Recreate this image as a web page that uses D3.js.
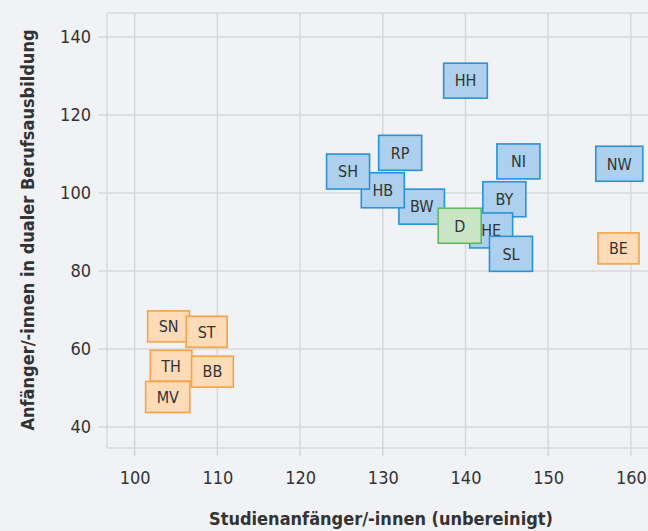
<!DOCTYPE html>
<html lang="de">
<head>
<meta charset="UTF-8">
<title>Anfänger/-innen</title>
<script src="https://cdn.jsdelivr.net/npm/d3@7"></script>
<style>
body { margin: 0; background: #f1f2f6; }
svg { display: block; font-family: "DejaVu Sans Condensed", "DejaVu Sans", sans-serif; }
.grid line { stroke: #d7d8dc; stroke-width: 1.5px; }
.tick text { fill: #333; font-size: 18px; }
.axis-title { fill: #333; font-size: 18px; font-weight: bold; }
.box text { fill: #333; font-size: 16px; }
</style>
</head>
<body>
<div id="chart"></div>
<script>
// Länder in draw order, x = Studienanfänger, y = Anfänger duale Ausbildung
const codes  = ["NW", "NI", "BY", "HH", "BW", "HB", "RP", "SH", "HE", "D", "SL", "BE", "SN", "ST", "TH", "BB", "MV"];
const xVals  = [158.6, 146.4, 144.7, 140.0, 134.7, 130.0, 132.1, 125.8, 143.1, 139.3, 145.5, 158.5, 104.1, 108.7, 104.4, 109.4, 104.0];
const yVals  = [107.5, 108.1, 98.4, 128.8, 96.5, 100.7, 110.3, 105.5, 90.4, 91.6, 84.4, 85.8, 65.8, 64.4, 55.7, 54.2, 47.7];
const groups = ["west", "west", "west", "west", "west", "west", "west", "west", "west", "all", "west", "east", "east", "east", "east", "east", "east"];

const xTicks = [100, 110, 120, 130, 140, 150, 160];
const yTicks = [40, 60, 80, 100, 120, 140];

const width = 648, height = 531;
const m = { left: 107, top: 13, bottom: 448, right: 648 };

const fills   = { west: "#acd0ee", all: "#c9e5c3", east: "#ffdbb7" };
const strokes = { west: "#2a92d6", all: "#5dbb5f", east: "#f7a246" };

const svg = d3.select("#chart").append("svg")
    .attr("width", width)
    .attr("height", height);

const x = d3.scaleLinear().domain([96.65, 162.07]).range([m.left, m.right]);
const y = d3.scaleLinear().domain([34.62, 146.15]).range([m.bottom, m.top]);

// grid
const grid = svg.append("g").attr("class", "grid");
grid.selectAll("line.v").data(xTicks).join("line")
    .attr("class", "v")
    .attr("x1", d => x(d)).attr("x2", d => x(d))
    .attr("y1", m.top).attr("y2", m.bottom + 8);
grid.selectAll("line.h").data(yTicks).join("line")
    .attr("class", "h")
    .attr("x1", m.left - 9).attr("x2", m.right)
    .attr("y1", d => y(d)).attr("y2", d => y(d));
grid.append("line").attr("x1", m.left).attr("x2", m.right).attr("y1", m.top).attr("y2", m.top);
grid.append("line").attr("x1", m.left).attr("x2", m.right).attr("y1", m.bottom).attr("y2", m.bottom);
grid.append("line").attr("x1", m.left).attr("x2", m.left).attr("y1", m.top).attr("y2", m.bottom);

// axes (labels only, lines come from the grid)
const xAxis = svg.append("g")
    .attr("transform", `translate(0,${m.bottom + 8})`)
    .call(d3.axisBottom(x).tickValues(xTicks).tickSize(0).tickPadding(15));
const yAxis = svg.append("g")
    .attr("transform", `translate(${m.left - 9},0)`)
    .call(d3.axisLeft(y).tickValues(yTicks).tickSize(0).tickPadding(7));
[xAxis, yAxis].forEach(a => {
    a.select(".domain").remove();
    a.attr("font-family", null).attr("font-size", null);
});

svg.append("text")
    .attr("class", "axis-title")
    .attr("x", 381).attr("y", 525)
    .attr("text-anchor", "middle")
    .text("Studienanfänger/-innen (unbereinigt)");

svg.append("text")
    .attr("class", "axis-title")
    .attr("transform", "translate(34,230) rotate(-90)")
    .attr("text-anchor", "middle")
    .text("Anfänger/-innen in dualer Berufsausbildung");

// boxes
const data = codes.map((c, i) => ({ code: c, x: xVals[i], y: yVals[i], group: groups[i] }));

const box = svg.selectAll("g.box").data(data).join("g")
    .attr("class", "box")
    .attr("transform", d => `translate(${x(d.x)},${y(d.y)})`);

const rects = box.append("rect");
const labels = box.append("text")
    .attr("text-anchor", "middle")
    .attr("dy", "0.36em")
    .text(d => d.code);

labels.each(function(d) {
    d.h = d.group === "east" ? 31 : 35;
    d.w = Math.max(d.group === "east" ? 41 : 43, this.getComputedTextLength() + 22);
});

rects
    .attr("x", d => -d.w / 2)
    .attr("y", d => -d.h / 2)
    .attr("width", d => d.w)
    .attr("height", d => d.h)
    .attr("fill", d => fills[d.group])
    .attr("stroke", d => strokes[d.group])
    .attr("stroke-width", 1.6);
</script>
</body>
</html>
